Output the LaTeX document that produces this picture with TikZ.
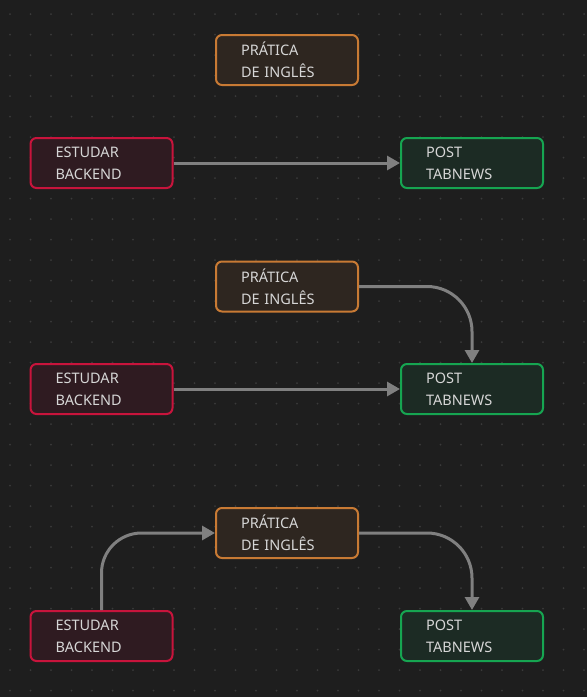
\documentclass[tikz,border=0pt]{standalone}
\usepackage{fontspec}
\setmainfont{Noto Sans}
\usetikzlibrary{arrows.meta}
\definecolor{bg}{HTML}{1E1E1E}
\definecolor{griddot}{HTML}{3A3A3A}
\definecolor{txt}{HTML}{D6D6D6}
\definecolor{orangeline}{HTML}{C87A34}
\definecolor{orangefill}{HTML}{2E2620}
\definecolor{redline}{HTML}{C8143C}
\definecolor{redfill}{HTML}{2F1B21}
\definecolor{greenline}{HTML}{16A551}
\definecolor{greenfill}{HTML}{1C2B24}
\definecolor{linkgray}{HTML}{808080}
\begin{document}
\begin{tikzpicture}[x=1pt,y=-1pt,
		card/.style={draw, line width=2pt, rounded corners=6pt, text=txt,
			minimum height=50pt, text width=92pt, inner xsep=25pt, align=left,
			font=\fontsize{14.5}{22}\selectfont},
		practice/.style={card, draw=orangeline, fill=orangefill},
		study/.style={card, draw=redline, fill=redfill},
		post/.style={card, draw=greenline, fill=greenfill},
		link/.style={draw=linkgray, line width=3pt, -{Triangle[length=13pt,width=14pt]}}]
	% background and dot grid
	\fill[bg] (0,0) rectangle (587,697);
	\useasboundingbox (0,0) rectangle (587,697);
	\foreach \i in {0,...,28}
		\foreach \j in {0,...,33}
			\fill[griddot] (10+20.5*\i, 14+20.5*\j) circle (1pt);
	% first row
	\node[practice] (prat1) at (287,60) {PRÁTICA\\DE INGLÊS};
	\node[study] (est1) at (101.5,163) {ESTUDAR\\BACKEND};
	\node[post] (post1) at (472,163) {POST\\TABNEWS};
	\draw[link] (est1) -- (post1);
	% second row
	\node[practice] (prat2) at (287,286.5) {PRÁTICA\\DE INGLÊS};
	\node[study] (est2) at (101.5,389) {ESTUDAR\\BACKEND};
	\node[post] (post2) at (472,389) {POST\\TABNEWS};
	\draw[link] (est2) -- (post2);
	\draw[link, rounded corners=45pt] (prat2.east) -| (post2.north);
	% third row
	\node[practice] (prat3) at (287,533) {PRÁTICA\\DE INGLÊS};
	\node[study] (est3) at (101.5,636) {ESTUDAR\\BACKEND};
	\node[post] (post3) at (472,636) {POST\\TABNEWS};
	\draw[link, rounded corners=40pt] (est3.north) |- (prat3.west);
	\draw[link, rounded corners=45pt] (prat3.east) -| (post3.north);
\end{tikzpicture}
\end{document}
